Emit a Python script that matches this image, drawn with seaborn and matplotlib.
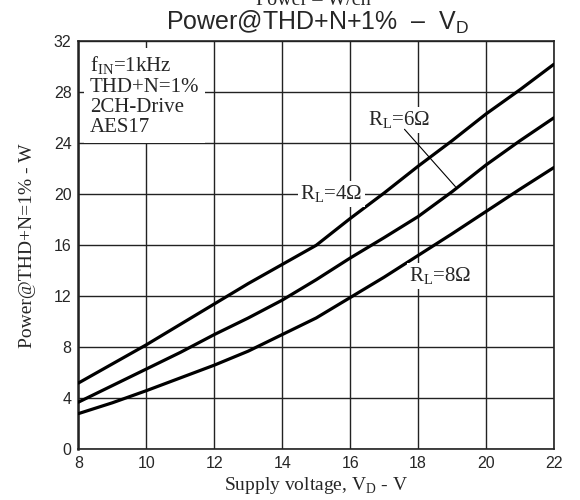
import matplotlib
matplotlib.use("Agg")
import matplotlib.pyplot as plt
import numpy as np
import pandas as pd
import seaborn as sns

# supply voltage VD (V)
vd = [8, 9, 10, 11, 12, 13, 14, 15, 16, 17, 18, 19, 20, 21, 22]
# output power at THD+N=1% (W)
p_4ohm = [5.2, 6.7, 8.2, 9.8, 11.4, 13.0, 14.5, 16.0, 18.1, 20.1, 22.2, 24.2, 26.3, 28.2, 30.2]
p_6ohm = [3.7, 5.0, 6.3, 7.6, 9.0, 10.3, 11.7, 13.3, 15.0, 16.6, 18.25, 20.2, 22.3, 24.2, 26.0]
p_8ohm = [2.8, 3.65, 4.6, 5.6, 6.6, 7.7, 9.0, 10.3, 11.9, 13.5, 15.2, 16.9, 18.65, 20.4, 22.1]
loads = ["4", "6", "8"]

x_ticks = [8, 10, 12, 14, 16, 18, 20, 22]
y_ticks = [0, 4, 8, 12, 16, 20, 24, 28, 32]

df = pd.concat(
    [
        pd.DataFrame({"vd": vd, "power": p, "load": ld})
        for p, ld in zip([p_4ohm, p_6ohm, p_8ohm], loads)
    ],
    ignore_index=True,
)

sns.set_style("white")
plt.rcParams["font.family"] = ["Liberation Sans", "DejaVu Sans"]
plt.rcParams["mathtext.fontset"] = "custom"
plt.rcParams["mathtext.rm"] = "Liberation Serif"
plt.rcParams["mathtext.sf"] = "Liberation Sans"

SERIF = ["Liberation Serif", "DejaVu Serif"]

fig = plt.figure(figsize=(5.8, 5.0), dpi=100)
ax = fig.add_axes([0.1353, 0.1014, 0.8197, 0.8160])

sns.lineplot(
    data=df,
    x="vd",
    y="power",
    hue="load",
    palette=["black"] * 3,
    linewidth=2.3,
    legend=False,
    ax=ax,
    zorder=3,
)

ax.set_xlim(8, 22)
ax.set_ylim(0, 32)
ax.set_xticks(x_ticks)
ax.set_yticks(y_ticks)
ax.grid(True, color="#222222", linewidth=1.0)
ax.set_axisbelow(True)
for s in ax.spines.values():
    s.set_color("#222222")
    s.set_linewidth(1.2)
ax.spines["left"].set_linewidth(1.8)
ax.tick_params(axis="both", labelsize=11.5, length=3, direction="out",
               color="#222222", pad=2)

ax.set_xlabel("Supply voltage, V$_\\mathrm{D}$ - V", family=SERIF, fontsize=14, labelpad=3)
ax.set_ylabel("Power@THD+N=1% - W", family=SERIF, fontsize=14, labelpad=13)

fig.text(0.548, 0.94, "Power@THD+N+1%  –  V$_\\mathsf{D}$", ha="center",
         va="baseline", fontsize=18)
fig.text(0.54, 0.99, "Power – W/ch", ha="center", va="baseline",
         family=SERIF, fontsize=14.5)

white = dict(facecolor="white", edgecolor="none", pad=1.5)

ax.text(8.34, 31.0, "f$_\\mathrm{IN}$=1kHz\nTHD+N=1%\n2CH-Drive\nAES17",
        family=SERIF, fontsize=15, va="top", ha="left", linespacing=1.08,
        bbox=dict(facecolor="white", edgecolor="none", pad=4), zorder=4)

ax.text(15.45, 20.0, "R$_\\mathrm{L}$=4Ω", family=SERIF, fontsize=15,
        ha="center", va="center", bbox=white, zorder=4)
ax.text(17.45, 25.85, "R$_\\mathrm{L}$=6Ω", family=SERIF, fontsize=15,
        ha="center", va="center", bbox=white, zorder=4)
ax.text(18.65, 13.6, "R$_\\mathrm{L}$=8Ω", family=SERIF, fontsize=15,
        ha="center", va="center", bbox=white, zorder=4)
ax.annotate("", xy=(19.1, 20.6), xytext=(17.6, 25.1),
            arrowprops=dict(arrowstyle="-", lw=0.8, color="black",
                            shrinkA=0, shrinkB=0), zorder=4)

fig.savefig("out.png", dpi=100)
